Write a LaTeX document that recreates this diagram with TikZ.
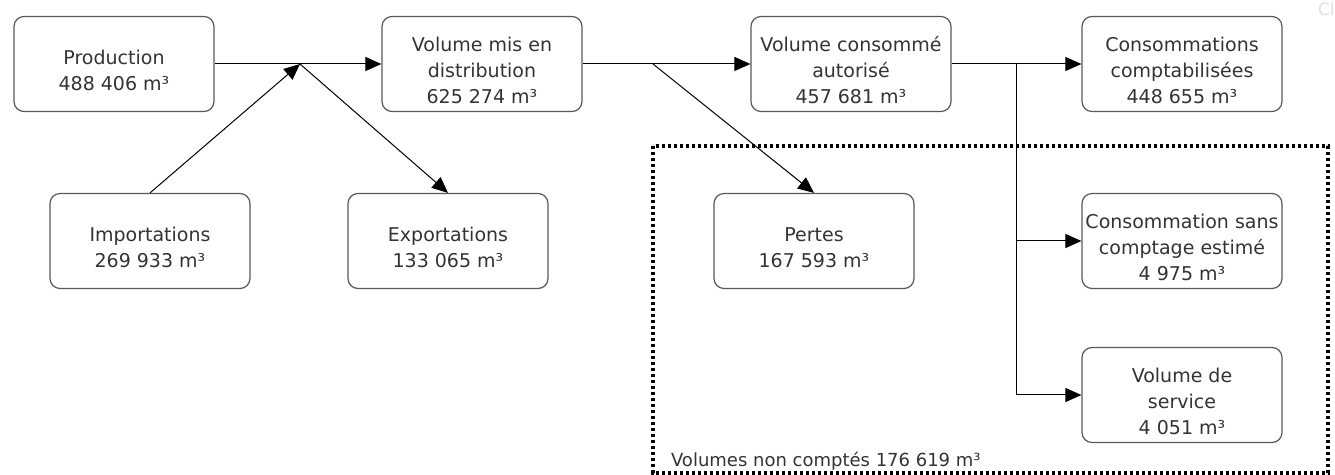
\documentclass[tikz,border=0pt]{standalone}
\usepackage{fontspec}
\setmainfont{DejaVu Sans}
\usetikzlibrary{arrows.meta}
% lines of a box, set a little low in the box
\newcommand{\boxlines}[1]{\raisebox{0pt}[\dimexpr\height+8pt\relax][\depth]{\begin{tabular}{@{}c@{}}#1\end{tabular}}}
\begin{document}
\begin{tikzpicture}[x=0.5pt, y=-0.5pt,
  box/.style={draw=black!65, line width=0.6pt, rounded corners=5pt,
    minimum width=100pt, minimum height=47.5pt, inner sep=0pt,
    text=black!80, font=\fontsize{9.5}{13}\selectfont},
  flow/.style={-{Triangle[length=8pt,width=7pt]}, line width=0.5pt},
  nocount/.style={line width=1.8pt, dash pattern=on 1.6pt off 1.4pt}]
\useasboundingbox (0,0) rectangle (1335,475);

\draw[nocount] (653,146) rectangle (1328,473);
\node[anchor=base west, text=black!80, font=\fontsize{9}{13}\selectfont] (nc) at (664,467) {Volumes non comptés 176 619 m³};
\node[anchor=base west, text=black!12, font=\fontsize{8.5}{13}\selectfont] (cl) at (1311,16) {Cl};

\node[box] (prod) at (114,64) {\boxlines{Production\\488 406 m³}};
\node[box] (dist) at (482,64) {\boxlines{Volume mis en\\distribution\\625 274 m³}};
\node[box] (conso) at (851,64) {\boxlines{Volume consommé\\autorisé\\457 681 m³}};
\node[box] (compta) at (1182,64) {\boxlines{Consommations\\comptabilisées\\448 655 m³}};
\node[box] (import) at (150,241) {\boxlines{Importations\\269 933 m³}};
\node[box] (export) at (448,241) {\boxlines{Exportations\\133 065 m³}};
\node[box] (pertes) at (814,241) {\boxlines{Pertes\\167 593 m³}};
\node[box] (sanscpt) at (1182,241) {\boxlines{Consommation sans\\comptage estimé\\4 975 m³}};
\node[box] (service) at (1182,395) {\boxlines{Volume de\\service\\4 051 m³}};

\coordinate (j1) at (300,64);
\coordinate (j2) at (653,64);
\coordinate (j3) at (1016,64);

\draw[flow] (prod) -- (dist);
\draw[flow] (import.north) -- (j1);
\draw[flow] (j1) -- (export.north);
\draw[flow] (dist) -- (conso);
\draw[flow] (j2) -- (pertes.north);
\draw[flow] (conso) -- (compta);
\draw[flow] (j3 |- sanscpt) -- (sanscpt);
\draw[flow] (j3) |- (service);
\end{tikzpicture}
\end{document}
